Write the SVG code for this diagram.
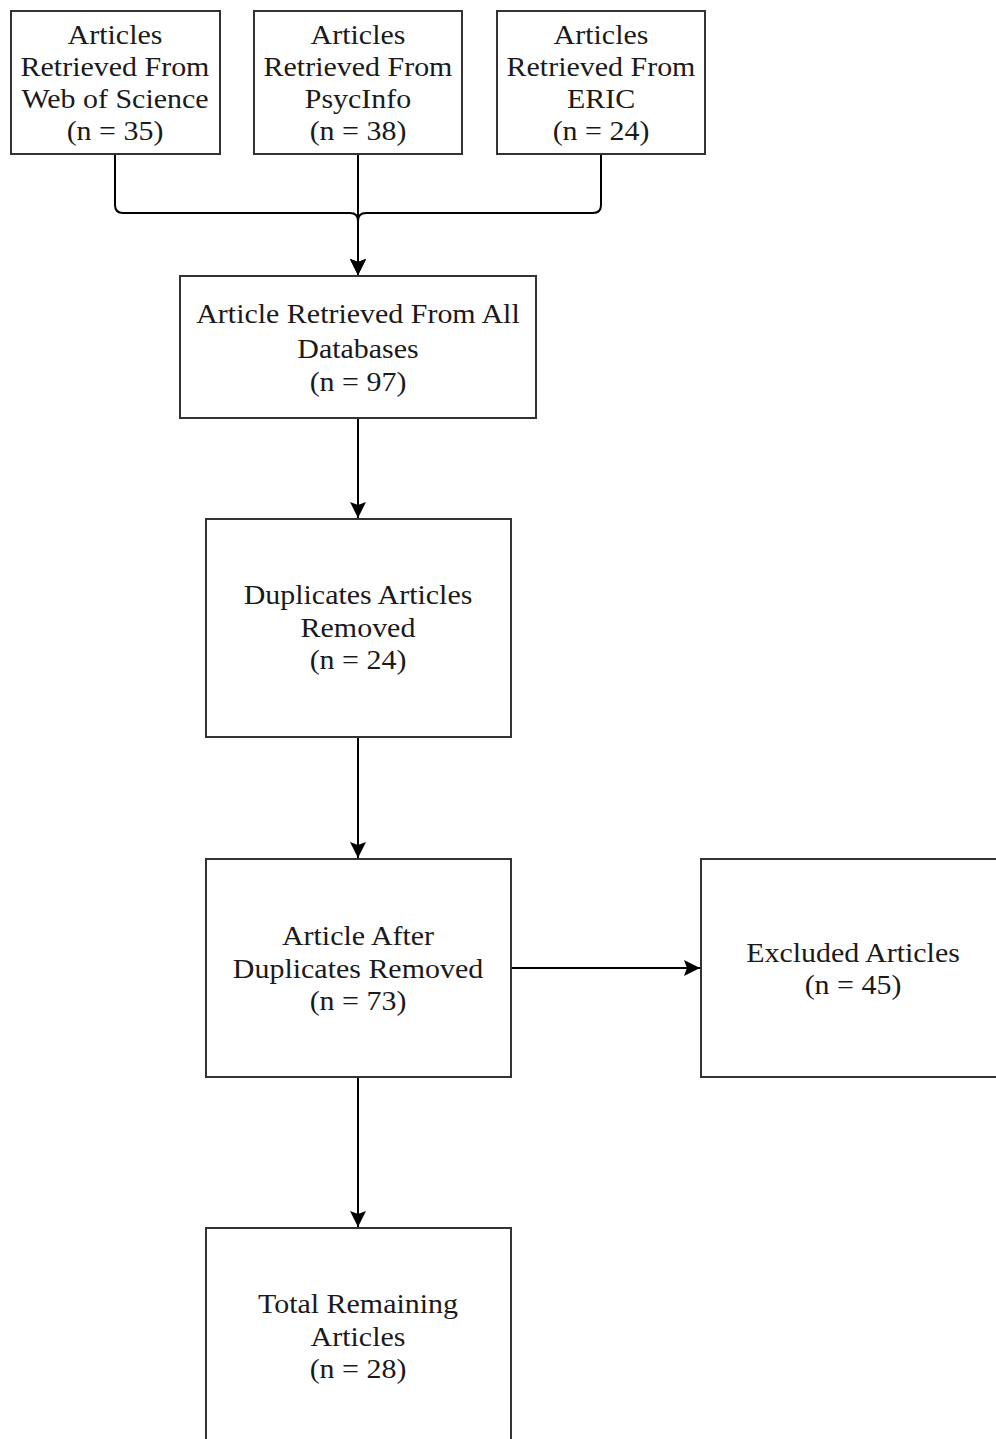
<svg xmlns="http://www.w3.org/2000/svg" width="996" height="1439" viewBox="0 0 996 1439">
<style>
.box{fill:#fff;stroke:#333;stroke-width:2}
.lbl{font-family:'Liberation Serif','Times New Roman',serif;font-size:28px;fill:#1a1a1a;text-anchor:middle}
.con{fill:none;stroke:#000;stroke-width:2}
</style>
<defs>
<marker id="arr" markerWidth="18" markerHeight="18" refX="16" refY="9" orient="auto" markerUnits="userSpaceOnUse">
<path d="M0,1 L16,9 L0,17 L3,9 Z" fill="#000"/>
</marker>
</defs>
<rect width="996" height="1439" fill="#fff"/>
<g id="connectors">
<path class="con" d="M115,154 V205 Q115,213 123,213 H350 Q358,213 358,221 V275" marker-end="url(#arr)"/>
<path class="con" d="M601,154 V205 Q601,213 593,213 H366 Q358,213 358,221 V275" marker-end="url(#arr)"/>
<path class="con" d="M358,154 V275" marker-end="url(#arr)"/>
<path class="con" d="M358,418 V518" marker-end="url(#arr)"/>
<path class="con" d="M358,737 V858" marker-end="url(#arr)"/>
<path class="con" d="M511,968 H700" marker-end="url(#arr)"/>
<path class="con" d="M358,1077 V1227" marker-end="url(#arr)"/>
</g>
<g id="n1">
<rect class="box" x="11" y="11" width="209" height="143"/>
<g transform="translate(115 0) scale(1.07 1)">
<text class="lbl" x="0" y="44">Articles</text>
<text class="lbl" x="0" y="76">Retrieved From</text>
<text class="lbl" x="0" y="108">Web of Science</text>
<text class="lbl" x="0" y="140">(n = 35)</text>
</g>
</g>
<g id="n2">
<rect class="box" x="254" y="11" width="208" height="143"/>
<g transform="translate(358 0) scale(1.07 1)">
<text class="lbl" x="0" y="44">Articles</text>
<text class="lbl" x="0" y="76">Retrieved From</text>
<text class="lbl" x="0" y="108">PsycInfo</text>
<text class="lbl" x="0" y="140">(n = 38)</text>
</g>
</g>
<g id="n3">
<rect class="box" x="497" y="11" width="208" height="143"/>
<g transform="translate(601 0) scale(1.07 1)">
<text class="lbl" x="0" y="44">Articles</text>
<text class="lbl" x="0" y="76">Retrieved From</text>
<text class="lbl" x="0" y="108">ERIC</text>
<text class="lbl" x="0" y="140">(n = 24)</text>
</g>
</g>
<g id="n4">
<rect class="box" x="180" y="276" width="356" height="142"/>
<g transform="translate(358 0) scale(1.07 1)">
<text class="lbl" x="0" y="323">Article Retrieved From All</text>
<text class="lbl" x="0" y="358">Databases</text>
<text class="lbl" x="0" y="391">(n = 97)</text>
</g>
</g>
<g id="n5">
<rect class="box" x="206" y="519" width="305" height="218"/>
<g transform="translate(358 0) scale(1.07 1)">
<text class="lbl" x="0" y="604">Duplicates Articles</text>
<text class="lbl" x="0" y="637">Removed</text>
<text class="lbl" x="0" y="669">(n = 24)</text>
</g>
</g>
<g id="n6">
<rect class="box" x="206" y="859" width="305" height="218"/>
<g transform="translate(358 0) scale(1.07 1)">
<text class="lbl" x="0" y="945">Article After</text>
<text class="lbl" x="0" y="978">Duplicates Removed</text>
<text class="lbl" x="0" y="1010">(n = 73)</text>
</g>
</g>
<g id="n7">
<rect class="box" x="701" y="859" width="305" height="218"/>
<g transform="translate(853 0) scale(1.07 1)">
<text class="lbl" x="0" y="962">Excluded Articles</text>
<text class="lbl" x="0" y="994">(n = 45)</text>
</g>
</g>
<g id="n8">
<rect class="box" x="206" y="1228" width="305" height="230"/>
<g transform="translate(358 0) scale(1.07 1)">
<text class="lbl" x="0" y="1313">Total Remaining</text>
<text class="lbl" x="0" y="1346">Articles</text>
<text class="lbl" x="0" y="1378">(n = 28)</text>
</g>
</g>
</svg>
